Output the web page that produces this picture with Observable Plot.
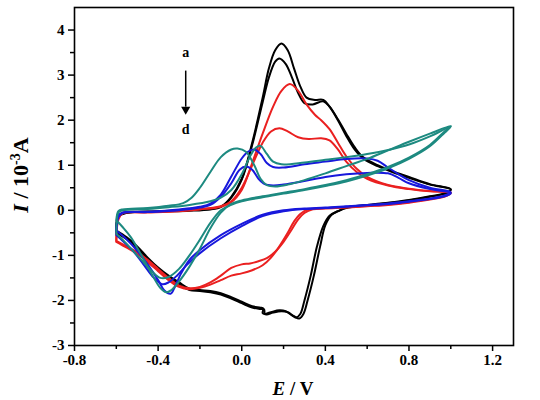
<!DOCTYPE html>
<html>
<head>
<meta charset="utf-8">
<script src="https://cdn.jsdelivr.net/npm/d3@7"></script>
<script src="https://cdn.jsdelivr.net/npm/@observablehq/plot@0.6"></script>
<style>
  html, body { margin: 0; padding: 0; background: #fff; }
</style>
</head>
<body>
<div id="chart"></div>
<script>
// Cyclic voltammograms, two cycles per sample (a–d); each loop: anodic sweep -0.6 → 1.0 V, then cathodic back.
const seriesNames = ["a", "b", "c", "d"];
const seriesColors = ["#000000", "#ea2020", "#1818dc", "#1d8a80"];

const xTicks = [-0.8, -0.4, 0.0, 0.4, 0.8, 1.2];
const xMinorTicks = [-0.6, -0.2, 0.2, 0.6, 1.0];
const yTicks = [-3, -2, -1, 0, 1, 2, 3, 4];
const yMinorTicks = [-2.5, -1.5, -0.5, 0.5, 1.5, 2.5, 3.5];

// sample a
const aCycle1 = [
  [-0.6,-0.45],[-0.59,-0.12],[-0.55,-0.05],[-0.4,-0.02],[-0.25,0.0],[-0.15,0.03],[-0.1,0.08],[-0.05,0.3],
  [0.0,0.7],[0.05,1.5],[0.1,2.5],[0.13,3.15],[0.16,3.55],[0.19,3.7],[0.22,3.55],[0.25,3.15],[0.28,2.75],
  [0.31,2.5],[0.35,2.45],[0.39,2.45],[0.42,2.3],[0.46,2.0],[0.5,1.65],[0.54,1.35],[0.58,1.15],[0.65,0.98],
  [0.72,0.85],[0.8,0.72],[0.9,0.57],[1.0,0.46],
  [0.98,0.38],[0.9,0.3],[0.8,0.22],[0.7,0.16],[0.6,0.11],[0.5,0.05],[0.46,-0.02],[0.42,-0.12],[0.39,-0.35],
  [0.36,-0.8],[0.33,-1.45],[0.3,-2.0],[0.28,-2.3],[0.26,-2.38],[0.24,-2.33],[0.21,-2.24],[0.18,-2.22],
  [0.14,-2.26],[0.11,-2.3],[0.1,-2.28],[0.103,-2.18],[0.09,-2.16],[0.05,-2.13],[0.0,-2.03],[-0.05,-1.93],
  [-0.1,-1.84],[-0.15,-1.79],[-0.2,-1.77],[-0.25,-1.74],[-0.3,-1.6],[-0.35,-1.45],[-0.4,-1.27],[-0.45,-1.05],
  [-0.5,-0.8],[-0.55,-0.6],[-0.6,-0.45]
];
const aCycle2 = [
  [-0.6,-0.5],[-0.59,-0.15],[-0.55,-0.06],[-0.4,-0.03],[-0.25,-0.01],[-0.15,0.02],[-0.1,0.07],[-0.05,0.28],
  [0.0,0.68],[0.05,1.45],[0.1,2.4],[0.13,2.95],[0.16,3.3],[0.18,3.37],[0.21,3.25],[0.24,2.95],[0.27,2.6],
  [0.3,2.38],[0.34,2.35],[0.39,2.42],[0.42,2.3],[0.46,2.02],[0.5,1.7],[0.54,1.4],[0.58,1.18],[0.65,1.0],
  [0.72,0.87],[0.8,0.74],[0.9,0.58],[1.0,0.47],
  [0.98,0.39],[0.9,0.31],[0.8,0.23],[0.7,0.17],[0.6,0.12],[0.5,0.06],[0.47,0.0],[0.43,-0.1],[0.4,-0.33],
  [0.375,-0.8],[0.345,-1.45],[0.315,-2.0],[0.295,-2.3],[0.275,-2.4],[0.25,-2.35],[0.22,-2.26],[0.19,-2.24],
  [0.15,-2.27],[0.12,-2.31],[0.11,-2.3],[0.107,-2.2],[0.09,-2.19],[0.05,-2.16],[0.0,-2.06],[-0.05,-1.96],
  [-0.1,-1.87],[-0.15,-1.82],[-0.2,-1.79],[-0.25,-1.77],[-0.3,-1.64],[-0.35,-1.48],[-0.4,-1.3],[-0.45,-1.08],
  [-0.5,-0.84],[-0.55,-0.64],[-0.6,-0.5]
];

// sample b
const bCycle1 = [
  [-0.6,-0.7],[-0.59,-0.2],[-0.57,-0.07],[-0.45,-0.05],[-0.3,-0.02],[-0.2,0.02],[-0.1,0.08],[-0.05,0.18],
  [0.0,0.45],[0.05,1.05],[0.1,1.7],[0.15,2.3],[0.19,2.65],[0.23,2.8],[0.27,2.65],[0.31,2.35],[0.35,2.12],
  [0.38,2.0],[0.42,1.8],[0.46,1.5],[0.5,1.2],[0.55,0.92],[0.6,0.74],[0.7,0.56],[0.8,0.48],[0.9,0.43],[1.0,0.4],
  [0.98,0.33],[0.9,0.25],[0.8,0.18],[0.7,0.13],[0.6,0.1],[0.5,0.07],[0.4,0.05],[0.32,0.02],[0.28,-0.08],
  [0.25,-0.25],[0.22,-0.5],[0.18,-0.8],[0.14,-1.05],[0.1,-1.22],[0.05,-1.33],[0.0,-1.4],[-0.05,-1.45],
  [-0.1,-1.55],[-0.15,-1.65],[-0.2,-1.72],[-0.25,-1.75],[-0.3,-1.7],[-0.35,-1.55],[-0.4,-1.35],[-0.45,-1.15],
  [-0.5,-0.97],[-0.55,-0.83],[-0.6,-0.7]
];
const bCycle2 = [
  [-0.6,-0.68],[-0.59,-0.18],[-0.57,-0.06],[-0.45,-0.04],[-0.3,-0.01],[-0.2,0.03],[-0.1,0.09],[-0.05,0.2],
  [0.0,0.5],[0.05,1.0],[0.1,1.5],[0.14,1.75],[0.18,1.82],[0.22,1.75],[0.27,1.62],[0.32,1.58],[0.38,1.6],
  [0.42,1.55],[0.46,1.35],[0.5,1.08],[0.55,0.85],[0.6,0.7],[0.7,0.55],[0.8,0.47],[0.9,0.42],[1.0,0.39],
  [0.98,0.32],[0.9,0.24],[0.8,0.17],[0.7,0.12],[0.6,0.09],[0.5,0.06],[0.4,0.04],[0.34,0.02],[0.3,-0.06],
  [0.27,-0.2],[0.24,-0.42],[0.2,-0.7],[0.16,-0.92],[0.12,-1.06],[0.08,-1.13],[0.04,-1.18],[0.0,-1.2],
  [-0.05,-1.28],[-0.1,-1.45],[-0.15,-1.6],[-0.2,-1.7],[-0.25,-1.73],[-0.3,-1.67],[-0.35,-1.5],[-0.4,-1.3],
  [-0.45,-1.1],[-0.5,-0.93],[-0.55,-0.8],[-0.6,-0.68]
];

// sample c
const cCycle1 = [
  [-0.6,-0.45],[-0.59,-0.12],[-0.57,-0.05],[-0.45,-0.03],[-0.3,0.02],[-0.2,0.08],[-0.15,0.15],[-0.1,0.35],
  [-0.05,0.75],[0.0,1.15],[0.03,1.3],[0.06,1.35],[0.09,1.25],[0.12,1.05],[0.15,0.96],[0.2,0.95],[0.3,1.02],
  [0.4,1.08],[0.5,1.14],[0.6,1.15],[0.65,1.1],[0.7,0.95],[0.75,0.8],[0.8,0.67],[0.9,0.5],[1.0,0.4],
  [0.97,0.33],[0.9,0.26],[0.8,0.2],[0.7,0.15],[0.6,0.12],[0.5,0.09],[0.4,0.06],[0.3,0.04],[0.2,0.0],
  [0.1,-0.1],[0.0,-0.3],[-0.1,-0.55],[-0.2,-0.88],[-0.25,-1.1],[-0.29,-1.4],[-0.32,-1.7],[-0.34,-1.85],
  [-0.37,-1.78],[-0.4,-1.55],[-0.45,-1.2],[-0.5,-0.9],[-0.55,-0.65],[-0.6,-0.45]
];
const cCycle2 = [
  [-0.6,-0.55],[-0.59,-0.15],[-0.57,-0.06],[-0.45,-0.04],[-0.3,0.0],[-0.2,0.06],[-0.15,0.12],[-0.1,0.3],
  [-0.05,0.6],[-0.01,0.9],[0.02,0.97],[0.05,0.9],[0.08,0.7],[0.11,0.58],[0.15,0.55],[0.2,0.57],[0.3,0.65],
  [0.4,0.74],[0.5,0.8],[0.6,0.83],[0.7,0.82],[0.75,0.72],[0.8,0.6],[0.9,0.47],[1.0,0.38],
  [0.97,0.31],[0.9,0.25],[0.8,0.19],[0.7,0.14],[0.6,0.11],[0.5,0.08],[0.4,0.05],[0.3,0.03],[0.2,-0.02],
  [0.1,-0.13],[0.0,-0.35],[-0.1,-0.62],[-0.2,-0.95],[-0.26,-1.2],[-0.31,-1.45],[-0.35,-1.6],[-0.38,-1.64],
  [-0.42,-1.5],[-0.47,-1.2],[-0.52,-0.9],[-0.56,-0.72],[-0.6,-0.55]
];

// sample d
const dCycle1 = [
  [-0.6,-0.22],[-0.59,-0.02],[-0.57,0.02],[-0.45,0.05],[-0.35,0.1],[-0.28,0.16],[-0.24,0.28],[-0.2,0.5],
  [-0.15,0.85],[-0.1,1.18],[-0.05,1.35],[-0.02,1.37],[0.02,1.3],[0.06,1.0],[0.09,0.7],[0.12,0.56],
  [0.16,0.53],[0.22,0.57],[0.3,0.67],[0.4,0.82],[0.5,0.98],[0.6,1.14],[0.7,1.33],[0.8,1.52],[0.9,1.7],[1.0,1.87],
  [0.97,1.75],[0.9,1.45],[0.8,1.17],[0.7,0.96],[0.6,0.8],[0.5,0.67],[0.4,0.56],[0.3,0.47],[0.2,0.39],
  [0.1,0.31],[0.0,0.22],[-0.05,0.14],[-0.1,-0.05],[-0.15,-0.4],[-0.2,-0.85],[-0.25,-1.25],[-0.3,-1.58],
  [-0.34,-1.78],[-0.36,-1.82],[-0.39,-1.72],[-0.43,-1.42],[-0.48,-1.0],[-0.53,-0.6],[-0.57,-0.37],[-0.6,-0.22]
];
const dCycle2 = [
  [-0.6,-0.52],[-0.59,-0.05],[-0.57,0.0],[-0.45,0.03],[-0.35,0.07],[-0.25,0.12],[-0.15,0.2],[-0.1,0.28],
  [-0.05,0.45],[0.0,0.8],[0.04,1.2],[0.07,1.4],[0.09,1.43],[0.12,1.25],[0.15,1.08],[0.19,1.02],[0.3,1.06],
  [0.4,1.12],[0.5,1.18],[0.6,1.25],[0.7,1.34],[0.8,1.46],[0.9,1.64],[1.0,1.86],
  [0.97,1.72],[0.9,1.42],[0.8,1.14],[0.7,0.93],[0.6,0.77],[0.5,0.64],[0.4,0.54],[0.3,0.45],[0.2,0.37],
  [0.1,0.29],[0.0,0.2],[-0.05,0.12],[-0.1,0.0],[-0.15,-0.28],[-0.2,-0.65],[-0.25,-1.0],[-0.3,-1.3],
  [-0.35,-1.48],[-0.39,-1.5],[-0.43,-1.35],[-0.48,-1.1],[-0.53,-0.85],[-0.57,-0.65],[-0.6,-0.52]
];

// long table: one row per point, keyed by sample and cycle
const loops = [
  ["a", 1, aCycle1], ["a", 2, aCycle2],
  ["b", 1, bCycle1], ["b", 2, bCycle2],
  ["c", 1, cCycle1], ["c", 2, cCycle2],
  ["d", 1, dCycle1], ["d", 2, dCycle2]
];
const rows = loops.flatMap(([sample, cycle, pts]) =>
  pts.map(([E, I]) => ({sample, id: sample + cycle, E, I})));

const serif = "'Liberation Serif', 'Times New Roman', serif";

const plot = Plot.plot({
  width: 540,
  height: 400,
  marginLeft: 74,
  marginRight: 27,
  marginTop: 7,
  marginBottom: 55,
  style: {fontFamily: serif, fontSize: "15px", fontWeight: "bold", background: "#fff"},
  x: {domain: [-0.8, 1.3]},
  y: {domain: [-3, 4.5]},
  color: {domain: seriesNames, range: seriesColors},
  marks: [
    Plot.line(rows, {x: "E", y: "I", z: "id", stroke: "sample", strokeWidth: 2, curve: "catmull-rom"}),
    Plot.frame({strokeWidth: 1.6}),
    Plot.axisX({ticks: xTicks, tickFormat: d => d.toFixed(1), tickSize: 6, tickPadding: 3, strokeWidth: 1.5, label: null}),
    Plot.axisX({ticks: xMinorTicks, tickFormat: () => "", tickSize: 4, strokeWidth: 1.5, label: null}),
    Plot.axisY({ticks: yTicks, tickFormat: d => String(d), tickSize: 6, tickPadding: 4, strokeWidth: 1.5, label: null}),
    Plot.axisY({ticks: yMinorTicks, tickFormat: () => "", tickSize: 4, strokeWidth: 1.5, label: null}),
    // a → d annotation
    Plot.text(["a"], {x: -0.268, y: 3.5, text: d => d, fontSize: 14, fontWeight: "bold"}),
    Plot.text(["d"], {x: -0.268, y: 1.8, text: d => d, fontSize: 14, fontWeight: "bold"}),
    Plot.link([0], {x1: -0.268, y1: 3.1, x2: -0.268, y2: 2.3, stroke: "#000", strokeWidth: 1.5}),
    Plot.dot([0], {x: -0.268, y: 2.24, symbol: "triangle", rotate: 180, r: 3.4, fill: "#000", stroke: "none"})
  ]
});

const svg = d3.select(plot);

// axis titles with italic symbols and superscript
const xTitle = svg.append("text")
  .attr("x", 293).attr("y", 395)
  .attr("text-anchor", "middle")
  .style("font-family", serif).style("font-size", "19px").style("font-weight", "bold");
xTitle.append("tspan").style("font-style", "italic").text("E");
xTitle.append("tspan").text(" / V");

const yTitle = svg.append("text")
  .attr("transform", "translate(28,175) rotate(-90)")
  .attr("text-anchor", "middle")
  .style("font-family", serif).style("font-size", "22px").style("font-weight", "bold");
yTitle.append("tspan").style("font-style", "italic").text("I");
yTitle.append("tspan").text(" / 10");
yTitle.append("tspan").attr("dy", -8).style("font-size", "14px").text("-3");
yTitle.append("tspan").attr("dy", 8).text("A");

document.getElementById("chart").appendChild(plot);
</script>
</body>
</html>
